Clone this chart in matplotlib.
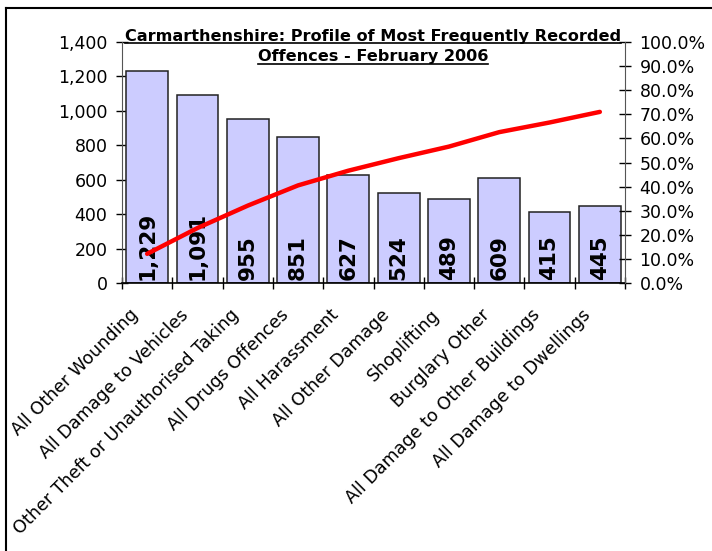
import matplotlib
matplotlib.use('Agg')
import matplotlib.pyplot as plt
import matplotlib.transforms as mtransforms
import numpy as np
from matplotlib.lines import Line2D
from matplotlib.ticker import FuncFormatter, FixedLocator, NullFormatter

categories = ['All Other Wounding', 'All Damage to Vehicles', 'Other Theft or Unauthorised Taking',
              'All Drugs Offences', 'All Harassment', 'All Other Damage', 'Shoplifting',
              'Burglary Other', 'All Damage to Other Buildings', 'All Damage to Dwellings']
counts = [1229, 1091, 955, 851, 627, 524, 489, 609, 415, 445]
cumulative_pct = [12.1, 22.8, 32.1, 40.5, 46.6, 51.8, 56.6, 62.6, 66.6, 71.0]

plt.rcParams['font.family'] = 'DejaVu Sans'

fig = plt.figure(figsize=(7.12, 5.51), dpi=100)
ax = fig.add_axes([122/712, 1-283/551, (625-122)/712, (283-42)/551])
x = np.arange(len(categories))

ax.bar(x, counts, width=0.83, color='#ccccff', edgecolor='#222222', linewidth=1.1, zorder=2)
for xi, v in zip(x, counts):
    ax.text(xi, 18, f'{v:,}', rotation=90, ha='center', va='bottom',
            fontsize=15.5, fontweight='bold', zorder=3)

ax.set_xlim(-0.5, 9.5)
ax.set_ylim(0, 1400)
ax.set_yticks(range(0, 1401, 200))
ax.yaxis.set_major_formatter(FuncFormatter(lambda v, p: f'{int(v):,}'))
ax.tick_params(axis='y', direction='inout', length=9, width=1, labelsize=12.5, pad=6)

ax.set_xticks(x)
ax.set_xticklabels(categories, rotation=45, ha='right', va='center', rotation_mode='anchor', fontsize=12.6)
ax.xaxis.set_minor_locator(FixedLocator(np.arange(-0.5, 10, 1)))
ax.xaxis.set_minor_formatter(NullFormatter())
ax.tick_params(axis='x', which='major', length=0, pad=21)
ax.tick_params(axis='x', which='minor', direction='inout', length=9, width=1)
# nudge the slanted labels left like the original
shift = mtransforms.ScaledTranslation(-12/100, 0, fig.dpi_scale_trans)
for lab in ax.get_xticklabels():
    lab.set_transform(lab.get_transform() + shift)

for s in ['top', 'right']:
    ax.spines[s].set_visible(False)
ax.spines['left'].set_color('#555555')
ax.spines['bottom'].set_linewidth(1.2)

ax2 = ax.twinx()
ax2.plot(x, cumulative_pct, color='red', linewidth=3.2, solid_capstyle='round', zorder=4)
ax2.set_ylim(0, 100)
ax2.set_yticks(range(0, 101, 10))
ax2.yaxis.set_major_formatter(FuncFormatter(lambda v, p: f'{v:.1f}%'))
ax2.tick_params(axis='y', direction='inout', length=9, width=1, labelsize=12.5, pad=6)
for s in ['top', 'left', 'bottom']:
    ax2.spines[s].set_visible(False)
ax2.spines['right'].set_color('#555555')

# title, underlined by hand
t1 = fig.text(373/712, 1-36/551, 'Carmarthenshire: Profile of Most Frequently Recorded',
              ha='center', va='center', fontsize=11.6, fontweight='bold')
t2 = fig.text(373/712, 1-57/551, 'Offences - February 2006',
              ha='center', va='center', fontsize=11.6, fontweight='bold')
fig.canvas.draw()
r = fig.canvas.get_renderer()
for t in [t1, t2]:
    bb = t.get_window_extent(r)
    yy = (bb.y0 + 1) / fig.bbox.height
    fig.add_artist(Line2D([bb.x0 / fig.bbox.width, bb.x1 / fig.bbox.width], [yy, yy],
                          color='black', linewidth=1.2))

# outer frame
fx, fy = 6/712, 1-8/551
fig.add_artist(Line2D([fx, fx], [0, fy], color='black', linewidth=1.5))
fig.add_artist(Line2D([fx, 1], [fy, fy], color='black', linewidth=1.5))

fig.savefig('out.png', dpi=100)
